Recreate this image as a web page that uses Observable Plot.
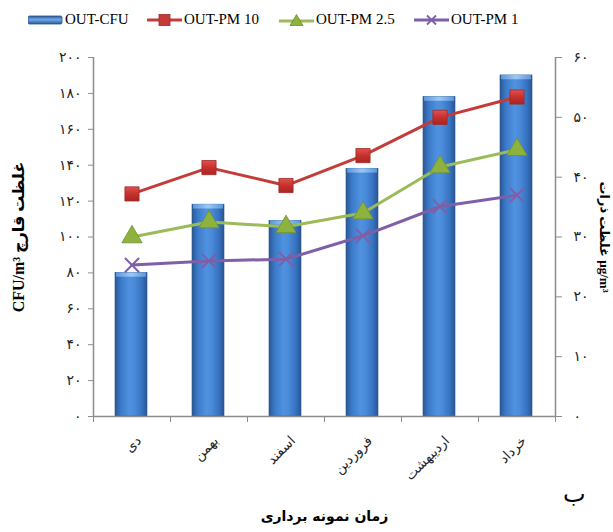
<!DOCTYPE html>
<html>
<head>
<meta charset="utf-8">
<script src="https://cdn.jsdelivr.net/npm/d3@7"></script>
<script src="https://cdn.jsdelivr.net/npm/@observablehq/plot@0.6"></script>
<style>
  body { margin: 0; background: #fff; width: 613px; height: 532px; overflow: hidden; }
  #legend { position: relative; height: 36px; width: 613px; font-family: "Liberation Serif", "Times New Roman", serif; font-size: 15px; color: #000; }
  #legend .item { position: absolute; top: 11px; display: flex; align-items: center; white-space: nowrap; }
  #legend svg { display: block; }
</style>
</head>
<body>
<div id="legend"></div>
<div id="chart"></div>
<script>
// ---- data ----
const months = ["دی", "بهمن", "اسفند", "فروردین", "اردیبهشت", "خرداد"];
const cfu  = [80, 118, 109, 138, 178, 190];
const pm10 = [37.2, 41.6, 38.6, 43.6, 50.0, 53.4];
const pm25 = [30.0, 32.5, 31.7, 34.0, 41.7, 44.6];
const pm1  = [25.3, 26.0, 26.3, 30.2, 35.1, 37.0];
const leftTicks  = [0, 20, 40, 60, 80, 100, 120, 140, 160, 180, 200];
const rightTicks = [0, 10, 20, 30, 40, 50, 60];
const seriesNames = ["OUT-CFU", "OUT-PM 10", "OUT-PM 2.5", "OUT-PM 1"];
const leftTitle = "CFU/m³ غلظت قارچ";
const rightTitle = "غلظت ذرات µg/m³";
const xTitle = "زمان نمونه برداری";
const panelTag = "ب";

const colors = { cfu: "#3F7CC9", pm10: "#C43C39", pm25: "#9BBB59", pm1: "#7E5FA8" };
const k = 200 / 60; // right axis -> left axis units

const rows = months.map((m, i) => ({ month: m, cfu: cfu[i], pm10: pm10[i], pm25: pm25[i], pm1: pm1[i] }));
const fa = n => String(n).replace(/\d/g, d => "۰۱۲۳۴۵۶۷۸۹"[d]);

// ---- legend ----
const legend = document.getElementById("legend");
const legendX = [28, 147, 279, 414];
const swatches = [
  `<svg width="36" height="14"><defs><linearGradient id="lg0" x1="0" y1="0" x2="0" y2="1"><stop offset="0" stop-color="#2B5A97"/><stop offset="0.45" stop-color="#6FA6E8"/><stop offset="1" stop-color="#2B5A97"/></linearGradient></defs><rect x="0" y="3" width="34" height="8" rx="1.5" fill="url(#lg0)" stroke="#24508A" stroke-width="0.8"/></svg>`,
  `<svg width="36" height="14"><line x1="0" y1="7" x2="35" y2="7" stroke="${colors.pm10}" stroke-width="3"/><rect x="12" y="1.5" width="11" height="11" fill="${colors.pm10}" stroke="#9E2A27" stroke-width="0.8"/></svg>`,
  `<svg width="36" height="14"><line x1="0" y1="8" x2="35" y2="8" stroke="${colors.pm25}" stroke-width="3"/><path d="M17.5 1.5 L24 12.5 L11 12.5 Z" fill="#8DB33E" stroke="#6F8F2E" stroke-width="0.8"/></svg>`,
  `<svg width="36" height="14"><line x1="0" y1="7" x2="35" y2="7" stroke="${colors.pm1}" stroke-width="3"/><path d="M13 2.5 L22 11.5 M22 2.5 L13 11.5" stroke="${colors.pm1}" stroke-width="1.8"/></svg>`
];
seriesNames.forEach((name, i) => {
  const it = document.createElement("div");
  it.className = "item";
  it.style.left = legendX[i] + "px";
  it.innerHTML = swatches[i] + `<span style="margin-left:1px">${name}</span>`;
  legend.appendChild(it);
});

// ---- chart ----
const axisColor = "#8C8C8C";
const half = 38.5;
const chart = Plot.plot({
  width: 613,
  height: 496,
  marginTop: 21,
  marginBottom: 116,
  marginLeft: 93,
  marginRight: 58,
  style: { fontFamily: "'Liberation Serif', 'DejaVu Sans', serif", background: "white", color: "#222" },
  x: { domain: months, padding: 0, axis: null },
  y: { domain: [0, 200], axis: null },
  marks: [
    Plot.barY(rows, { x: "month", y: "cfu", fill: "url(#barGrad)", insetLeft: 22, insetRight: 23, stroke: "#2A5590", strokeWidth: 0.6 }),
    Plot.barY(rows, { x: "month", y1: d => d.cfu - 2.4, y2: "cfu", fill: "url(#capGrad)", insetLeft: 23, insetRight: 24 }),
    // axis lines
    Plot.ruleY([0], { stroke: axisColor, strokeWidth: 1.5 }),
    Plot.ruleX([months[0]], { x: d => d, dx: -half, y1: 0, y2: 200, stroke: axisColor, strokeWidth: 1.5 }),
    Plot.ruleX([months[months.length - 1]], { x: d => d, dx: half, y1: 0, y2: 200, stroke: axisColor, strokeWidth: 1.5 }),
    // left axis
    Plot.axisY(leftTicks, { anchor: "left", tickSize: 5, tickPadding: 7, tickFormat: fa, stroke: axisColor, fill: "#222", fontSize: 14, label: null }),
    // right axis
    Plot.axisY(rightTicks.map(v => v * k), { anchor: "right", tickSize: 6, tickPadding: 12, tickFormat: v => fa(Math.round(v / k)), stroke: axisColor, fill: "#222", fontSize: 14, label: null }),
    // x boundary ticks
    Plot.axisX(months, { anchor: "bottom", tickSize: 6, dx: half, tickFormat: () => "", stroke: axisColor, label: null }),
    Plot.axisX([months[0]], { anchor: "bottom", tickSize: 6, dx: -half, tickFormat: () => "", stroke: axisColor, label: null }),
    // x labels
    Plot.axisX(months, { anchor: "bottom", tickSize: 0, tickPadding: 22, tickRotate: -45, dx: 7, fontSize: 13.5, fill: "#222", label: null }),
    // lines
    Plot.line(rows, { x: "month", y: d => d.pm10 * k, stroke: colors.pm10, strokeWidth: 3 }),
    Plot.line(rows, { x: "month", y: d => d.pm25 * k, stroke: colors.pm25, strokeWidth: 3 }),
    Plot.line(rows, { x: "month", y: d => d.pm1 * k, stroke: colors.pm1, strokeWidth: 3 }),
    Plot.dot(rows, { x: "month", y: d => d.pm10 * k, symbol: "square", r: 8, fill: "url(#sqGrad)", stroke: "#9E2A27", strokeWidth: 0.8 }),
    Plot.dot(rows, { x: "month", y: d => d.pm25 * k, symbol: "triangle", r: 7.5, fill: "#8DB33E", stroke: "#6F8F2E", strokeWidth: 0.8 }),
    Plot.dot(rows, { x: "month", y: d => d.pm1 * k, symbol: "times", r: 6.5, stroke: colors.pm1, strokeWidth: 2 }),
    // titles
    Plot.text([leftTitle], { frameAnchor: "left", textAnchor: "middle", dx: -75, rotate: -90, fontSize: 16, fontWeight: "bold", fill: "#000" }),
    Plot.text([rightTitle], { frameAnchor: "right", textAnchor: "middle", dx: 49, rotate: 90, fontSize: 13, fontWeight: "bold", fill: "#000" }),
    Plot.text([xTitle], { frameAnchor: "bottom", dy: 104, fontSize: 14, fontWeight: "bold", fill: "#000", fontFamily: "'DejaVu Sans', sans-serif" }),
    Plot.text([panelTag], { frameAnchor: "bottom-right", dx: 30, dy: 85, fontSize: 24, fill: "#000" })
  ]
});

// gradients for the 3D look
const svg = d3.select(chart.tagName.toLowerCase() === "svg" ? chart : chart.querySelector("svg"));
const defs = svg.insert("defs", ":first-child");
const g1 = defs.append("linearGradient").attr("id", "barGrad").attr("x1", 0).attr("y1", 0).attr("x2", 1).attr("y2", 0);
[[0, "#2A5894"], [0.18, "#3B7AC9"], [0.45, "#4F92E0"], [0.6, "#4B8CDA"], [0.85, "#3571BF"], [1, "#2A5690"]]
  .forEach(([o, c]) => g1.append("stop").attr("offset", o).attr("stop-color", c));
const g2 = defs.append("linearGradient").attr("id", "capGrad").attr("x1", 0).attr("y1", 0).attr("x2", 1).attr("y2", 0);
[[0, "#5C97DA"], [0.5, "#9CC8F5"], [1, "#5C97DA"]]
  .forEach(([o, c]) => g2.append("stop").attr("offset", o).attr("stop-color", c));
const g3 = defs.append("linearGradient").attr("id", "sqGrad").attr("x1", 0).attr("y1", 0).attr("x2", 0).attr("y2", 1);
[[0, "#E0524E"], [0.5, "#C8302C"], [1, "#A82623"]]
  .forEach(([o, c]) => g3.append("stop").attr("offset", o).attr("stop-color", c));

document.getElementById("chart").appendChild(chart);
</script>
</body>
</html>
